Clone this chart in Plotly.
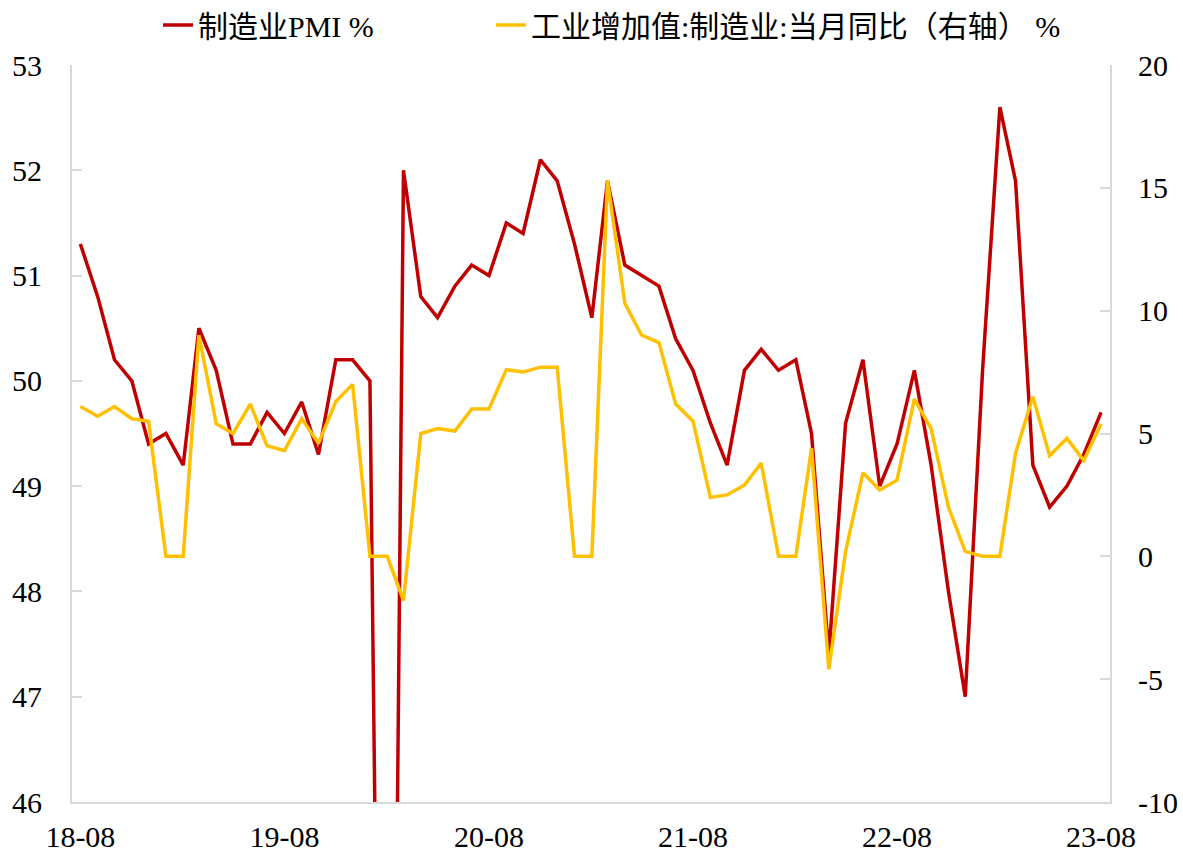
import pandas as pd
import plotly.graph_objects as go

# monthly, 2018-08 .. 2023-08
months = pd.date_range("2018-08-01", "2023-08-01", freq="MS")

pmi = [
    51.3, 50.8, 50.2, 50.0, 49.4,
    49.5, 49.2, 50.5, 50.1, 49.4, 49.4, 49.7, 49.5, 49.8, 49.3, 50.2, 50.2,
    50.0, 35.7, 52.0, 50.8, 50.6, 50.9, 51.1, 51.0, 51.5, 51.4, 52.1, 51.9,
    51.3, 50.6, 51.9, 51.1, 51.0, 50.9, 50.4, 50.1, 49.6, 49.2, 50.1, 50.3,
    50.1, 50.2, 49.5, 47.4, 49.6, 50.2, 49.0, 49.4, 50.1, 49.2, 48.0, 47.0,
    50.1, 52.6, 51.9, 49.2, 48.8, 49.0, 49.3, 49.7,
]

iva_mfg = [
    6.1, 5.7, 6.1, 5.6, 5.5,
    0, 0, 9.0, 5.4, 5.0, 6.2, 4.5, 4.3, 5.6, 4.6, 6.3, 7.0,
    0, 0, -1.8, 5.0, 5.2, 5.1, 6.0, 6.0, 7.6, 7.5, 7.7, 7.7,
    0, 0, 15.3, 10.3, 9.0, 8.7, 6.2, 5.5, 2.4, 2.5, 2.9, 3.8,
    0, 0, 4.4, -4.6, 0.2, 3.4, 2.7, 3.1, 6.4, 5.2, 2.0, 0.2,
    0, 0, 4.2, 6.5, 4.1, 4.8, 3.9, 5.4,
]

tick_dates = ["2018-08-01", "2019-08-01", "2020-08-01", "2021-08-01", "2022-08-01", "2023-08-01"]
tick_text = ["18-08", "19-08", "20-08", "21-08", "22-08", "23-08"]
right_ticks = [-10, -5, 0, 5, 10, 15, 20]
right_text = ["-10", "-5", "0", "5", "10", "15", "20"]

font_family = "Liberation Serif, 'Times New Roman', Noto Sans CJK SC, serif"
axis_grey = "#d9d9d9"

fig = go.Figure()
fig.add_trace(go.Scatter(x=months, y=pmi, mode="lines", name="制造业PMI %",
                         line=dict(color="#C00000", width=3.5), legend="legend"))
fig.add_trace(go.Scatter(x=months, y=iva_mfg, mode="lines", yaxis="y2",
                         name="工业增加值:制造业:当月同比（右轴） %",
                         line=dict(color="#FFC000", width=3.5), legend="legend2"))

legend_common = dict(
    orientation="h",
    xref="container", yref="container",
    xanchor="left", yanchor="middle",
    font=dict(size=30),
    bgcolor="rgba(0,0,0,0)",
)

fig.update_layout(
    width=1183,
    height=853,
    autosize=False,
    showlegend=True,
    margin=dict(l=72, r=73, t=65, b=51, autoexpand=False),
    paper_bgcolor="white",
    plot_bgcolor="white",
    font=dict(family=font_family, size=30, color="black"),
    legend=dict(legend_common, x=158 / 1183, y=1 - 25 / 853),
    legend2=dict(legend_common, x=491 / 1183, y=1 - 25 / 853),
    xaxis=dict(
        range=["2018-07-17", "2023-08-17"],
        tickvals=tick_dates,
        ticktext=tick_text,
        showgrid=False,
        zeroline=False,
        showline=True,
        linecolor=axis_grey,
        linewidth=2,
        ticks="",
        ticklabelstandoff=7,
    ),
    yaxis=dict(
        range=[46, 53],
        dtick=1,
        showgrid=False,
        zeroline=False,
        showline=True,
        linecolor=axis_grey,
        linewidth=2,
        ticks="inside",
        ticklen=10,
        tickcolor=axis_grey,
        tickwidth=2,
        ticklabelstandoff=22,
    ),
    yaxis2=dict(
        range=[-10, 20],
        tickvals=right_ticks,
        ticktext=right_text,
        overlaying="y",
        side="right",
        showgrid=False,
        zeroline=False,
        showline=True,
        linecolor=axis_grey,
        linewidth=2,
        ticks="inside",
        ticklen=10,
        tickcolor=axis_grey,
        tickwidth=2,
        ticklabelstandoff=20,
    ),
)

# drop the default 8px page margin so the figure sits at the window corner
fig.write_html("out.html", config={"displayModeBar": False},
               post_script="document.body.style.margin='0';")
